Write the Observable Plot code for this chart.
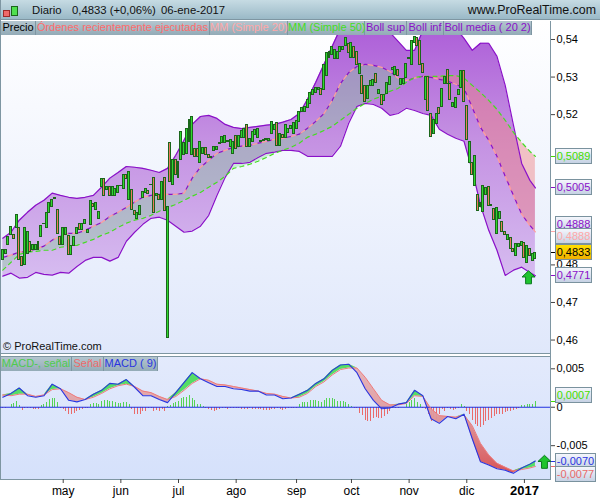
<!DOCTYPE html>
<html><head><meta charset="utf-8">
<script src="https://cdn.jsdelivr.net/npm/d3@7"></script>
<script src="https://cdn.jsdelivr.net/npm/@observablehq/plot@0.6"></script>
<style>
html,body{margin:0;padding:0;background:#fff}
#page{position:relative;width:600px;height:500px;overflow:hidden;font-family:"Liberation Sans",Arial,sans-serif;font-size:11px;background:#fff}
.abs{position:absolute;box-sizing:border-box;white-space:nowrap}
.tab{height:14px;line-height:13px;text-align:center;border-right:1px solid #7e96a2;background:linear-gradient(#b4c6cf,#93abb7)}
.tag{left:555px;height:16px;line-height:14px;text-align:center;border:1px solid #7a929e;background:linear-gradient(#f4f6fc,#c6d2e4);font-size:11px}
svg{position:absolute}
</style></head><body>
<svg width="0" height="0" style="position:absolute"><defs>
<linearGradient id="bollFill" x1="0" y1="0" x2="0" y2="1"><stop offset="0" stop-color="#ac5cd8"/><stop offset="0.45" stop-color="#c490e2"/><stop offset="1" stop-color="#d6bcf0"/></linearGradient>
<linearGradient id="macdRed" x1="0" y1="0" x2="0" y2="1"><stop offset="0" stop-color="#e6b4b8"/><stop offset="0.45" stop-color="#e09a9e"/><stop offset="1" stop-color="#d84e50"/></linearGradient>
</defs></svg>
<div id="page"></div>
<script>
// Prices are in ten-thousandths (4839 = 0,4839). MACD values likewise.
const bodyHigh=[
4839,4839,4875,4901,4879,4932,4899,4820,4899,4888,
4861,4852,4852,4861,4903,4910,4938,4965,4972,4977,
4947,4875,4897,4897,4876,4850,4875,4897,4910,4908,
4919,4894,4970,4963,4966,4942,5030,5030,5008,5008,
5008,5001,5011,5011,5039,5039,5048,4999,4944,4937,
4956,4994,5003,4997,5014,5032,4990,4985,5021,5032,
4953,5124,5078,5078,5073,5153,5124,5163,5185,5195,
5108,5108,5126,5110,5110,5092,5086,5113,5113,5124,
5140,5142,5129,5132,5126,5142,5142,5156,5163,5172,
5134,5153,5158,5163,5129,5132,5134,5134,5180,5172,
5177,5148,5145,5172,5163,5169,5177,5182,5206,5217,
5219,5238,5257,5265,5270,5270,5267,5331,5363,5366,
5379,5371,5368,5379,5379,5403,5387,5390,5379,5366,
5336,5304,5275,5275,5289,5291,5307,5265,5251,5251,
5283,5299,5323,5326,5318,5294,5294,5336,5350,5395,
5406,5403,5395,5336,5299,5299,5203,5187,5203,5217,
5267,5299,5320,5281,5230,5243,5265,5315,5315,5222,
5126,5070,5089,4985,4964,5009,5004,5007,4959,4948,
4951,4940,4913,4887,4879,4871,4842,4855,4855,4860,
4858,4850,4842,4828,4833];
const bodyLow=[
4814,4830,4852,4879,4870,4897,4814,4797,4800,4830,
4835,4839,4839,4839,4873,4909,4899,4937,4953,4976,
4883,4852,4852,4879,4826,4826,4850,4883,4892,4894,
4910,4885,4906,4953,4946,4923,5008,4983,4999,4983,
4983,4983,4992,5009,5001,5030,4972,4947,4932,4923,
4934,4979,4992,4990,5013,4938,4983,4972,4972,4944,
4605,5020,5012,5039,5031,5078,5092,5094,5126,5092,
5086,5086,5070,5094,5092,5084,5085,5102,5105,5123,
5124,5124,5128,5113,5094,5108,5113,5137,5137,5113,
5113,5126,5145,5137,5128,5131,5133,5129,5148,5158,
5116,5116,5137,5137,5150,5161,5148,5163,5180,5206,
5206,5217,5227,5251,5257,5265,5251,5265,5302,5352,
5358,5347,5347,5366,5371,5384,5363,5352,5352,5331,
5307,5254,5233,5241,5275,5275,5283,5254,5225,5235,
5254,5278,5318,5305,5302,5278,5281,5297,5349,5331,
5392,5384,5331,5312,5238,5211,5140,5148,5174,5203,
5219,5281,5281,5238,5219,5217,5251,5270,5233,5132,
5070,5039,5009,4943,4953,4940,4985,4956,4958,4919,
4882,4921,4887,4879,4866,4842,4834,4823,4847,4850,
4818,4804,4823,4810,4817];
const redCandles=[4,6,7,10,20,21,24,28,33,37,39,45,47,48,53,55,57,59,61,63,70,71,74,75,85,89,100,102,116,126,128,129,131,132,136,138,144,151,152,153,155,156,159,162,163,168,169,171,173,177,178,179,182,183,185,186,190,192];

const bollSup=[
4871,4887,4919,4940,4959,4972,4991,4985,4980,4977,
4980,4985,5007,5031,5046,5062,5060,5057,5052,5046,
5057,5092,5132,5174,5195,5198,5190,5174,5166,5163,
5166,5169,5172,5174,5180,5187,5203,5241,5286,5334,
5382,5430,5445,5445,5445,5445,5438,5419,5395,5371,
5371,5424,5445,5445,5445,5430,5403,5371,5390,5390,
5355,5278,5172,5070,5025,5005];
const bollInf=[
4770,4778,4765,4767,4780,4775,4773,4780,4778,4796,
4812,4820,4820,4810,4820,4863,4887,4908,4924,4927,
4919,4903,4887,4890,4903,4932,4985,5033,5070,5070,
5073,5086,5097,5100,5105,5105,5102,5089,5089,5089,
5089,5116,5177,5222,5230,5227,5217,5198,5203,5217,
5211,5203,5198,5161,5148,5137,5129,5052,4959,4892,
4839,4772,4786,4794,4780,4771];
const mm20=[
4820,4826,4834,4836,4842,4850,4866,4876,4884,4884,
4892,4903,4913,4929,4940,4953,4967,4980,4985,4988,
4988,4988,4991,5031,5060,5078,5097,5105,5113,5116,
5118,5124,5129,5134,5137,5142,5148,5164,5182,5203,
5238,5283,5312,5328,5334,5331,5326,5315,5297,5291,
5297,5302,5299,5294,5289,5281,5270,5219,5166,5132,
5089,5036,4985,4935,4905,4888];
const mm50=[
4786,4807,4828,4834,4836,4839,4839,4847,4850,4852,
4860,4868,4879,4887,4900,4911,4919,4924,4932,4943,
4953,4961,4972,4983,4993,5007,5020,5036,5057,5062,
5068,5076,5086,5097,5105,5113,5124,5140,5148,5158,
5169,5185,5201,5217,5230,5241,5249,5262,5270,5286,
5299,5302,5302,5302,5304,5304,5297,5278,5259,5238,
5214,5185,5153,5126,5102,5089];
const macd=[
13,18,25,15,13,15,30,24,9,7,
10,17,22,31,30,36,26,15,15,10,
6,19,32,45,37,32,27,27,24,23,
21,21,16,16,11,12,17,22,31,37,
48,55,56,45,24,9,-2,-1,4,6,
22,15,-15,-21,-12,-15,-9,-41,-71,-75,
-80,-82,-86,-79,-74,-70];
const senal=[
16,15,17,17,14,16,23,24,19,13,
10,13,18,24,28,30,27,21,19,14,
10,14,22,31,37,35,30,29,27,25,
23,21,18,17,14,12,13,18,27,33,
42,49,51,51,39,24,9,3,3,5,
15,14,-2,-11,-12,-13,-10,-24,-47,-62,
-73,-78,-83,-81,-79,-77];
const histo=[
-2,-2,0,4,5,7,2,-4,-1,-1,
-2,-3,-3,-3,2,3,6,10,12,12,
6,-2,-3,-6,-9,-10,-8,-6,-4,-3,
-2,-1,4,5,5,4,7,9,9,8,
8,6,5,5,6,6,4,-3,-9,-9,
-9,-6,-5,-2,-2,-6,-4,-5,-3,-5,
1,2,5,6,8,12,13,13,15,11,
9,4,4,1,-1,-3,-4,-5,-4,-3,
-2,-2,-3,-2,-2,-1,-2,-3,-3,-3,
-2,-3,-3,-3,-3,-4,-4,-4,-3,-3,
-2,-3,-4,-3,-2,-2,-1,-1,3,6,
6,6,9,9,9,7,6,9,11,12,
12,10,8,7,7,6,3,0.5,-1,-2,
-8,-11,-17,-19,-19,-15,-13,-15,-14,-12,
-9,-5,-2,-1,-1,-0.5,-0.5,3,6,9,
11,6,3,-1,-3,-9,-18,-13,-16,-9,
-3,-6,-2,-3,-4,-3,-2,4,1,-5,
-10,-17,-22,-25,-27,-24,-19,-17,-15,-12,
-9,-10,-9,-7,-6,-6,-4,-3,-1,2,
2,3,4,4,7];
const monthTicks=[22,43,64,85,107,127,148,169];
const monthLabels=["may","jun","jul","ago","sep","oct","nov","dic"];
const yearTick=[190], yearLabel="2017";
const priceTicks=[4600,4700,4800,5200,5300,5400];
const macdTicks=[50,0,-50];
const priceArrow=[{i:191.5,v:4767}], macdArrow=[{i:197.3,v:-71}];
const priceDomain=[4564.2,5447.9], macdDomain=[-94,66], indexDomain=[-0.84,199.5];
const priceTags=[
 {v:5089,t:"0,5089",c:"#44dd00",shift:0,w:37},
 {v:5005,t:"0,5005",c:"#8a10c8",shift:0,w:37},
 {v:4888,t:"0,4888",c:"#8a10c8",shift:-7,w:37},
 {v:4888,t:"0,4888",c:"#ffa8a8",shift:5,w:37},
 {v:4833,t:"0,4833",c:"#000",shift:0,gold:true,w:37},
 {v:4771,t:"0,4771",c:"#8a10c8",shift:0,w:37}];
const macdTags=[
 {v:7,t:"0,0007",c:"#44dd00",shift:-6,w:37},
 {v:-70,t:"-0,0070",c:"#2a35e0",shift:0,w:41},
 {v:-77,t:"-0,0077",c:"#e86a6a",shift:8,w:41}];
const mainTabs=[["Precio",35,"#000"],["Órdenes recientemente ejecutadas",174,"#ff6b6b"],["MM (Simple 20)",78,"#ffa8a8"],["MM (Simple 50)",77,"#44dd22"],["Boll sup",42,"#8a10c8"],["Boll inf",37,"#8a10c8"],["Boll media ( 20 2)",88,"#8a10c8"]];
const macdTabs=[["MACD-, señal",71,"#4ecb4e"],["Señal",32,"#ee6a6a"],["MACD ( 9)",54,"#2a35e0"]];

const bandIndex=d3.range(0,193,3).concat(194);
const barIndex=d3.range(bodyHigh.length);
const arrowSym={draw(ctx,size){const s=Math.sqrt(size/Math.PI);
  ctx.moveTo(0,-s);ctx.lineTo(s,-s*0.05);ctx.lineTo(s*0.45,-s*0.05);ctx.lineTo(s*0.45,s);ctx.lineTo(-s*0.45,s);ctx.lineTo(-s*0.45,-s*0.05);ctx.lineTo(-s,-s*0.05);ctx.closePath();}};
const page=document.getElementById("page");
const baseStyle={fontFamily:"'Liberation Sans',Arial,sans-serif",fontSize:"11px",background:"transparent",overflow:"visible"};
function div(cls,css,text){const d=document.createElement("div");d.className="abs "+cls;d.style.cssText+=css;if(text!=null)d.textContent=text;page.appendChild(d);return d;}

// frames and backgrounds
div("","left:0;top:0;width:600px;height:20px;background:linear-gradient(#c6dbe3,#9ab9c7);border-bottom:1px solid #7e96a2");
div("","left:0;top:21px;width:550px;height:332px;background:linear-gradient(#ffffff,#e0e8fb)");
div("","left:0;top:356px;width:550px;height:123px;background:linear-gradient(#e3eafc,#d5e1fb)");
div("","left:0;top:353px;width:550px;height:4px;border-top:1px solid #7e96a2;border-bottom:1px solid #7e96a2;background:#fff");
div("","left:0;top:479px;width:550px;height:1px;background:#7e96a2");
div("","left:550px;top:21px;width:1px;height:459px;background:#7e96a2");
div("","left:0;top:0;width:1px;height:480px;background:#7e96a2");

const main=Plot.plot({width:600,height:332,marginTop:0,marginBottom:0,marginLeft:0,marginRight:50,
 style:baseStyle,
 x:{domain:indexDomain,axis:null,label:null},
 y:{domain:priceDomain,axis:null,label:null},
 marks:[
  Plot.areaY(bandIndex,{x:bandIndex,y1:bollSup,y2:bollInf,fill:"url(#bollFill)",clip:true}),
  Plot.areaY(bandIndex,{x:bandIndex,y1:mm20,y2:mm20.map((v,k)=>Math.min(v,mm50[k])),fill:"#7fd88f",fillOpacity:0.35}),
  Plot.areaY(bandIndex,{x:bandIndex,y1:mm50,y2:mm20.map((v,k)=>Math.min(v,mm50[k])),fill:"#f08080",fillOpacity:0.45}),
  Plot.line(bandIndex,{x:bandIndex,y:bollSup,stroke:"#8a10c8",strokeWidth:1.2,clip:true}),
  Plot.line(bandIndex,{x:bandIndex,y:bollInf,stroke:"#8a10c8",strokeWidth:1.2}),
  Plot.line(bandIndex,{x:bandIndex,y:mm20,stroke:"#8a10c8",strokeWidth:1.2,strokeDasharray:"5,5"}),
  Plot.line(bandIndex,{x:bandIndex,y:mm20,stroke:"#ff9d9d",strokeWidth:1.2,strokeDasharray:"5,5",strokeDashoffset:5}),
  Plot.line(bandIndex,{x:bandIndex,y:mm50,stroke:"#44dd22",strokeWidth:1.2,strokeDasharray:"4,4"}),
  Plot.rect(barIndex,{x1:i=>i-0.36,x2:i=>i+0.36,y1:i=>bodyLow[i],y2:i=>bodyHigh[i],
    fill:i=>redCandles.includes(i)?"#ec7a5e":"#2fd92f",stroke:"#1b661b",strokeWidth:1,shapeRendering:"crispEdges"}),
  Plot.dot(priceArrow,{x:"i",y:"v",symbol:arrowSym,r:6.5,fill:"#1fc42f",stroke:"#0b7a1f",strokeWidth:1}),
  Plot.axisY(priceTicks,{anchor:"right",label:null,tickSize:4,tickPadding:2,stroke:"#444",tickFormat:v=>(v/1e4).toFixed(2).replace(".",","),fill:"#000"})
 ]});
main.style.left="0";main.style.top="21px";page.appendChild(main);

const lower=Plot.plot({width:600,height:144,marginTop:0,marginBottom:21,marginLeft:0,marginRight:50,
 style:baseStyle,
 x:{domain:indexDomain,axis:null,label:null},
 y:{domain:macdDomain,axis:null,label:null},
 marks:[
  Plot.ruleX(barIndex,{x:barIndex,y1:0,y2:histo,stroke:i=>histo[i]>=0?"#55d455":"#ea6a6a",strokeWidth:1,shapeRendering:"crispEdges"}),
  Plot.areaY(bandIndex,{x:bandIndex,y1:macd,y2:senal.map((v,k)=>Math.max(v,macd[k])),fill:"url(#macdRed)",fillOpacity:0.95}),
  Plot.areaY(bandIndex,{x:bandIndex,y1:senal,y2:senal.map((v,k)=>Math.max(v,macd[k])),fill:"#55dd66"}),
  Plot.ruleY([0],{stroke:"#2030e0",strokeWidth:1.2}),
  Plot.line(bandIndex,{x:bandIndex,y:senal,stroke:"#f07a7a",strokeWidth:1}),
  Plot.line(bandIndex,{x:bandIndex,y:macd,stroke:"#2a35e0",strokeWidth:1.1}),
  Plot.dot(macdArrow,{x:"i",y:"v",symbol:arrowSym,r:6.5,fill:"#1fc42f",stroke:"#0b7a1f",strokeWidth:1}),
  Plot.axisY(macdTicks,{anchor:"right",label:null,tickSize:4,tickPadding:2,stroke:"#444",tickFormat:v=>v===0?"0":(v/1e4).toFixed(3).replace(".",","),fill:"#000"}),
  Plot.axisX(monthTicks,{anchor:"bottom",label:null,tickSize:4,tickPadding:3,stroke:"#444",fill:"#000",fontSize:12,tickFormat:v=>monthLabels[monthTicks.indexOf(v)]}),
  Plot.axisX(yearTick,{anchor:"bottom",label:null,tickSize:4,tickPadding:2,stroke:"#444",fill:"#000",fontSize:13,fontWeight:"bold",tickFormat:()=>yearLabel})
 ]});
lower.style.left="0";lower.style.top="356px";page.appendChild(lower);

// header
div("","left:3px;top:10px;width:7px;height:7px;background:#ee6a6a;border:1px solid #9b2a2a");
div("","left:11px;top:6px;width:7px;height:10px;background:#4fe04f;border:1px solid #1b661b");
div("","left:32px;top:4px;font-size:11.3px;color:#111","Diario");
div("","left:72px;top:4px;font-size:11.3px;color:#111","0,4833 (+0,06%)");
div("","left:161px;top:4px;font-size:11.3px;color:#111","06-ene-2017");
div("","right:4px;top:3px;font-size:12.4px;color:#111","www.ProRealTime.com");
div("","left:3px;top:340px;font-size:11px;color:#111","© ProRealTime.com");

// legends
function tabs(list,top){let x=1;for(const [t,w,c] of list){div("tab",`left:${x}px;top:${top}px;width:${w}px;color:${c}`,t);x+=w;}}
tabs(mainTabs,21);tabs(macdTabs,357);

// value tags beside the axis
function tags(list,chart,top){for(const g of list){const y=chart.scale("y").apply(g.v)+top;
  div("",`left:551px;top:${Math.round(y)}px;width:5px;height:1px;background:${g.c}`);
  const d=div("tag",`top:${Math.round(y-8+g.shift)}px;width:${g.w}px;color:${g.c}`,g.t);
  if(g.gold)d.style.background="linear-gradient(#ffe000,#f0b000)";}}
tags(priceTags,main,21);tags(macdTags,lower,356);
</script>
</body></html>
